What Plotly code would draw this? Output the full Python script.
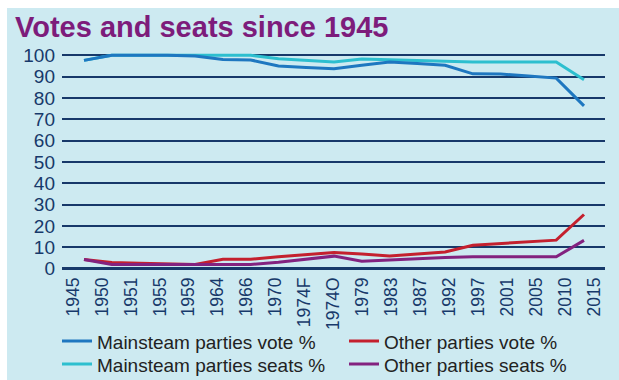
import plotly.graph_objects as go

categories = ["1945", "1950", "1951", "1955", "1959", "1964", "1966", "1970", "1974F", "1974O",
              "1979", "1983", "1987", "1992", "1997", "2001", "2005", "2010", "2015"]
mainstream_vote = [97.6, 100, 100, 100, 99.6, 98.0, 97.8, 95.0, 94.3, 93.7,
                   95.3, 96.8, 96.2, 95.3, 91.3, 91.2, 90.3, 89.3, 76.3]
mainstream_seats = [97.6, 100, 100, 100, 100, 100, 100, 98.4, 97.5, 96.8,
                    98.3, 97.9, 97.4, 97.1, 96.8, 96.8, 96.8, 96.8, 88.5]
other_vote = [4.3, 2.9, 2.6, 2.3, 2.0, 4.4, 4.4, 5.6, 6.6, 7.6,
              6.9, 6.0, 6.9, 7.8, 11.0, 11.8, 12.6, 13.4, 25.4]
other_seats = [4.3, 2.0, 2.0, 2.0, 2.0, 2.0, 2.0, 3.0, 4.5, 5.9,
               3.5, 4.2, 4.8, 5.3, 5.6, 5.6, 5.6, 5.6, 13.3]
y_ticks = [0, 10, 20, 30, 40, 50, 60, 70, 80, 90, 100]

W, H = 619, 380
L, R, T, B = 62, 14, 51, 107.2
pw, ph = W - L - R, H - T - B

def px2x(px):
    return (px - L) / pw

def px2y(py):
    return (H - B - py) / ph

NAVY = "#17396a"
BLUE = "#1e77c0"
CYAN = "#2dbfcf"
RED = "#c4202e"
PURPLE = "#83227f"
BG = "#cdeaf1"

fig = go.Figure()
series = [
    ("Mainsteam parties seats %", mainstream_seats, CYAN, "legend3"),
    ("Mainsteam parties vote %", mainstream_vote, BLUE, "legend"),
    ("Other parties vote %", other_vote, RED, "legend2"),
    ("Other parties seats %", other_seats, PURPLE, "legend4"),
]
for name, vals, col, lg in series:
    fig.add_trace(go.Scatter(x=categories, y=vals, name=name, mode="lines",
                             line=dict(color=col, width=3), legend=lg,
                             hoverinfo="skip"))
# invisible trace carrying the tick-label axis
fig.add_trace(go.Scatter(x=categories, y=mainstream_vote, xaxis="x2", mode="lines",
                         line=dict(width=0), opacity=0, showlegend=False, hoverinfo="skip"))

fig.add_shape(type="rect", xref="paper", yref="paper", layer="below",
              x0=px2x(7), x1=px2x(640), y0=px2y(400), y1=px2y(8),
              fillcolor=BG, line=dict(width=0))

def leg(xpx, ypx):
    return dict(x=px2x(xpx), xanchor="left", y=px2y(ypx), yanchor="top",
                orientation="v", bgcolor="rgba(0,0,0,0)",
                font=dict(size=19, color="#222222"), tracegroupgap=0)

fig.update_layout(
    width=W, height=H,
    margin=dict(l=L, r=R, t=T, b=B, pad=0, autoexpand=False),
    paper_bgcolor="white", plot_bgcolor="rgba(0,0,0,0)",
    font=dict(family="Liberation Sans, Arial, sans-serif", color=NAVY),
    title=dict(text="Votes and seats since 1945", xref="container", yref="container",
               x=15 / W, xanchor="left", y=1 - 17 / H, yanchor="top",
               pad=dict(l=0, r=0, t=0, b=0),
               font=dict(size=29, color="#7d1c7b", weight="bold")),
    xaxis=dict(type="category", categoryorder="array", categoryarray=categories,
               range=[(L - 84) / 27.78, 18 + (W - R - 584) / 27.78],
               showticklabels=False, showgrid=False, zeroline=False, showline=False),
    xaxis2=dict(type="category", categoryorder="array", categoryarray=categories,
                overlaying="x", anchor="y", side="bottom",
                range=[-(73 - L) / 28.94, 18 + (W - R - 594) / 28.94],
                tickangle=-90, tickfont=dict(size=17.5, color=NAVY),
                showgrid=False, zeroline=False, showline=False, ticks=""),
    yaxis=dict(range=[-2, 102], tickvals=y_ticks, showgrid=True, gridcolor=NAVY, gridwidth=1.5,
               zeroline=True, zerolinecolor=NAVY, zerolinewidth=3,
               tickfont=dict(size=19, color=NAVY), ticks="", ticklabelstandoff=6),
    legend=leg(57, 322),
    legend2=leg(344, 322),
    legend3=leg(57, 345),
    legend4=leg(344, 345),
    showlegend=True,
)

fig.write_html("out.html", config={"displayModeBar": False},
               post_script="document.body.style.margin='0';")
